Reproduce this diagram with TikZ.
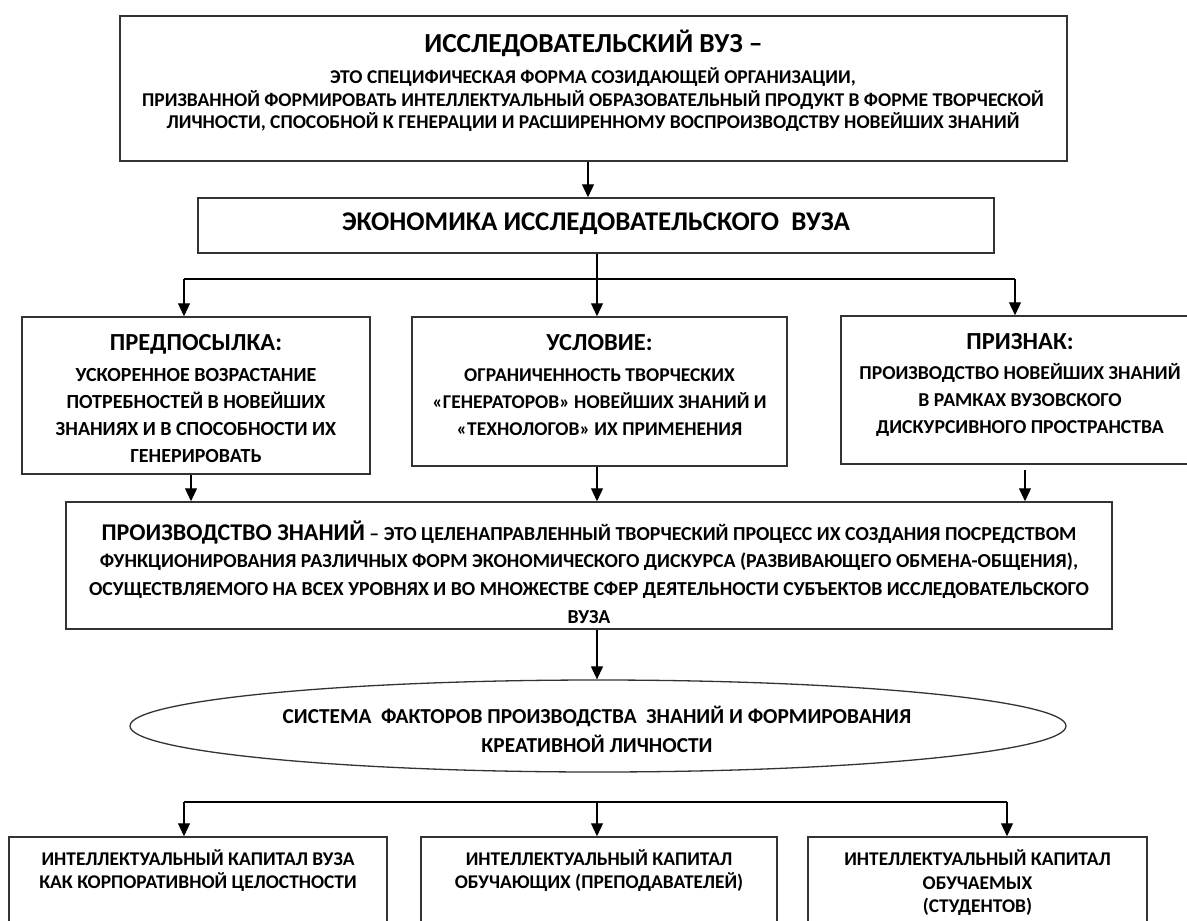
\documentclass[tikz,border=0pt]{standalone}
\usepackage{fontspec}
\setmainfont{Carlito}
\usetikzlibrary{arrows.meta,shapes.geometric}
\begin{document}
\begin{tikzpicture}[x=1pt,y=-1pt,
  box/.style={draw=black!80,line width=1.5pt,inner sep=0pt,minimum width=#1},
  oval/.style={ellipse,draw=black!80,line width=1.3pt,inner sep=0pt},
  txt/.style={inner sep=0pt,align=center,font=\bfseries\fontsize{#1}{27}\selectfont},
  arr/.style={-{Triangle[width=12pt,length=13pt]},line width=1.2pt,draw=black},
  ln/.style={line width=1.2pt,draw=black}
]
\useasboundingbox (0,0) rectangle (1187,921);
\fill[white] (0,0) rectangle (1187,921);

% boxes
\node[box=947pt,minimum height=145pt] (top) at (593.5,88.5) {};
\node[box=796pt,minimum height=55pt] (econ) at (596,225.5) {};
\node[box=348pt,minimum height=157pt] (left) at (196,395.5) {};
\node[box=375pt,minimum height=149pt] (mid) at (599.5,391.5) {};
\node[box=358pt,minimum height=148pt] (right) at (1020,390) {};
\node[box=1046pt,minimum height=127pt] (prod) at (589,565.5) {};
\node[oval,minimum width=936pt,minimum height=92pt] (sys) at (598,726) {};
\node[box=378pt,minimum height=160pt] (bl) at (198,917) {};
\node[box=356pt,minimum height=160pt] (bm) at (599,917) {};
\node[box=339pt,minimum height=160pt] (br) at (977.5,917) {};

% texts
\node[txt=27.5] (topT) at (593.5,43) {ИССЛЕДОВАТЕЛЬСКИЙ ВУЗ –};
\node[txt=19.5,font=\bfseries\fontsize{19.5}{22.5}\selectfont] (topB) at (593,100) {ЭТО СПЕЦИФИЧЕСКАЯ ФОРМА СОЗИДАЮЩЕЙ ОРГАНИЗАЦИИ,\\ПРИЗВАННОЙ ФОРМИРОВАТЬ ИНТЕЛЛЕКТУАЛЬНЫЙ ОБРАЗОВАТЕЛЬНЫЙ ПРОДУКТ В ФОРМЕ ТВОРЧЕСКОЙ\\ЛИЧНОСТИ, СПОСОБНОЙ К ГЕНЕРАЦИИ И РАСШИРЕННОМУ ВОСПРОИЗВОДСТВУ НОВЕЙШИХ ЗНАНИЙ};
\node[txt=27] (econT) at (596,224) {ЭКОНОМИКА ИССЛЕДОВАТЕЛЬСКОГО\ \ ВУЗА};

\node[txt=24.5] (leftH) at (196,344) {ПРЕДПОСЫЛКА:};
\node[txt=20] (leftT) at (196,415.5) {УСКОРЕННОЕ ВОЗРАСТАНИЕ\\ПОТРЕБНОСТЕЙ В НОВЕЙШИХ\\ЗНАНИЯХ И В СПОСОБНОСТИ ИХ\\ГЕНЕРИРОВАТЬ};
\node[txt=24.5] (midH) at (599.5,343) {УСЛОВИЕ:};
\node[txt=19.5] (midT) at (599.5,402) {ОГРАНИЧЕННОСТЬ ТВОРЧЕСКИХ\\«ГЕНЕРАТОРОВ» НОВЕЙШИХ ЗНАНИЙ И\\«ТЕХНОЛОГОВ» ИХ ПРИМЕНЕНИЯ};
\node[txt=24.5] (rightH) at (1020,342) {ПРИЗНАК:};
\node[txt=19.7] (rightT) at (1020,399.5) {ПРОИЗВОДСТВО НОВЕЙШИХ ЗНАНИЙ\\В РАМКАХ ВУЗОВСКОГО\\ДИСКУРСИВНОГО ПРОСТРАНСТВА};

\node[txt=19.8,font=\bfseries\fontsize{19.8}{27.7}\selectfont] (prodT) at (589,572) {{\fontsize{24}{27.7}\selectfont ПРОИЗВОДСТВО ЗНАНИЙ} – ЭТО ЦЕЛЕНАПРАВЛЕННЫЙ ТВОРЧЕСКИЙ ПРОЦЕСС ИХ СОЗДАНИЯ ПОСРЕДСТВОМ\\ФУНКЦИОНИРОВАНИЯ РАЗЛИЧНЫХ ФОРМ ЭКОНОМИЧЕСКОГО ДИСКУРСА (РАЗВИВАЮЩЕГО ОБМЕНА-ОБЩЕНИЯ),\\ОСУЩЕСТВЛЯЕМОГО НА ВСЕХ УРОВНЯХ И ВО МНОЖЕСТВЕ СФЕР ДЕЯТЕЛЬНОСТИ СУБЪЕКТОВ ИССЛЕДОВАТЕЛЬСКОГО\\ВУЗА};

\node[txt=21.3,font=\bfseries\fontsize{21.3}{29}\selectfont] (sysT) at (597,729) {СИСТЕМА\ \ ФАКТОРОВ ПРОИЗВОДСТВА\ \ ЗНАНИЙ И ФОРМИРОВАНИЯ\\КРЕАТИВНОЙ ЛИЧНОСТИ};

\node[txt=19.4,font=\bfseries\fontsize{19.4}{23}\selectfont] (blT) at (198,871) {ИНТЕЛЛЕКТУАЛЬНЫЙ КАПИТАЛ ВУЗА\\КАК КОРПОРАТИВНОЙ ЦЕЛОСТНОСТИ};
\node[txt=19.4,font=\bfseries\fontsize{19.4}{23}\selectfont] (bmT) at (599,871) {ИНТЕЛЛЕКТУАЛЬНЫЙ КАПИТАЛ\\ОБУЧАЮЩИХ (ПРЕПОДАВАТЕЛЕЙ)};
\node[txt=19.4,font=\bfseries\fontsize{19.4}{23.5}\selectfont] (brT) at (977.5,883) {ИНТЕЛЛЕКТУАЛЬНЫЙ КАПИТАЛ\\ОБУЧАЕМЫХ\\(СТУДЕНТОВ)};

% helper coordinates
\coordinate (x588) at (588,0);
\coordinate (x597) at (597,0);
\coordinate (x191) at (191,0);
\coordinate (b1L) at (184,279);
\coordinate (b1R) at (1015,279);
\coordinate (r1) at (1025,470);
\coordinate (b2L) at (184,802);
\coordinate (b2M) at (597,802);
\coordinate (b2R) at (1007,802);

% connectors
\draw[arr] (top.south -| x588) -- (econ.north -| x588);
\draw[arr] (econ.south -| x597) -- (mid.north -| x597);
\draw[ln] (b1L) -- (b1R);
\draw[arr] (b1L) -- (b1L |- left.north);
\draw[arr] (b1R) -- (b1R |- right.north);

\draw[arr] (left.south -| x191) -- (prod.north -| x191);
\draw[arr] (mid.south -| x597) -- (prod.north -| x597);
\draw[arr] (r1) -- (prod.north -| r1);

\draw[arr] (prod.south -| x597) -- (sys.north -| x597);

\draw[ln] (b2L) -- (b2R);
\draw[arr] (b2L) -- (b2L |- bl.north);
\draw[arr] (b2M) -- (b2M |- bm.north);
\draw[arr] (b2R) -- (b2R |- br.north);
\end{tikzpicture}
\end{document}
